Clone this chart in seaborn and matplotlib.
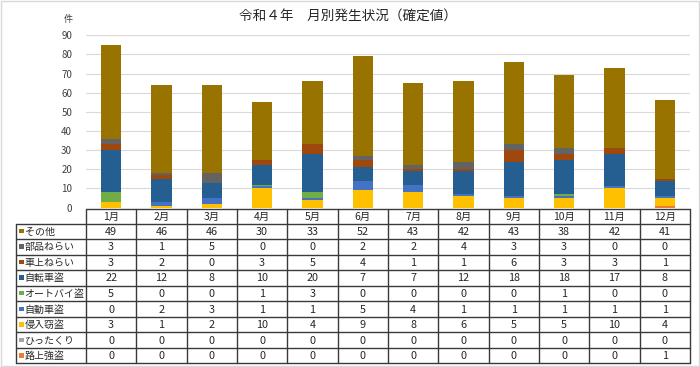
import numpy as np
import pandas as pd
import matplotlib
matplotlib.use("Agg")
import matplotlib.pyplot as plt
from matplotlib.patches import Rectangle
import seaborn as sns

months = ["1月", "2月", "3月", "4月", "5月", "6月", "7月", "8月", "9月", "10月", "11月", "12月"]
# table order (top to bottom)
series_names = ["その他", "部品ねらい", "車上ねらい", "自転車盗", "オートバイ盗", "自動車盗", "侵入窃盗", "ひったくり", "路上強盗"]
sonota    = [49, 46, 46, 30, 33, 52, 43, 42, 43, 38, 42, 41]
buhin     = [3, 1, 5, 0, 0, 2, 2, 4, 3, 3, 0, 0]
shajo     = [3, 2, 0, 3, 5, 4, 1, 1, 6, 3, 3, 1]
jitensha  = [22, 12, 8, 10, 20, 7, 7, 12, 18, 18, 17, 8]
autobai   = [5, 0, 0, 1, 3, 0, 0, 0, 0, 1, 0, 0]
jidosha   = [0, 2, 3, 1, 1, 5, 4, 1, 1, 1, 1, 1]
shinnyu   = [3, 1, 2, 10, 4, 9, 8, 6, 5, 5, 10, 4]
hittakuri = [0, 0, 0, 0, 0, 0, 0, 0, 0, 0, 0, 0]
rojo      = [0, 0, 0, 0, 0, 0, 0, 0, 0, 0, 0, 1]
series_values = [sonota, buhin, shajo, jitensha, autobai, jidosha, shinnyu, hittakuri, rojo]
colors = ["#997300", "#636363", "#9E480E", "#255E91", "#70AD47", "#4472C4", "#FFC000", "#A5A5A5", "#ED7D31"]
yticks = [0, 10, 20, 30, 40, 50, 60, 70, 80, 90]

sns.set_style("white")
plt.rcParams['font.family'] = ['Noto Sans CJK JP', 'DejaVu Sans']

W, H = 700, 367
fig = plt.figure(figsize=(7, 3.67), dpi=100)

ax = fig.add_axes([86 / W, 1 - 207.5 / H, 604 / W, (207.5 - 35.3) / H])

# stacked via cumulative sums, drawn from top layer downward
stack_bottom_up = list(reversed(series_values))
colors_bottom_up = list(reversed(colors))
cum = np.cumsum(np.array(stack_bottom_up), axis=0)
for i in range(len(stack_bottom_up) - 1, -1, -1):
    df = pd.DataFrame({"month": months, "value": cum[i]})
    sns.barplot(data=df, x="month", y="value", order=months, color=colors_bottom_up[i],
                width=0.4, saturation=1, errorbar=None, ax=ax, linewidth=0, zorder=3)

ax.set_ylim(0, 90)
ax.set_xlim(-0.5, 11.5)
ax.set_yticks(yticks)
ax.set_yticklabels([str(v) for v in yticks], fontsize=7, color="#404040")
ax.tick_params(axis="y", length=0, pad=10)
ax.set_xticks([])
ax.set_xlabel("")
ax.set_ylabel("")
ax.grid(axis="y", color="#D9D9D9", linewidth=0.8, zorder=0)
ax.set_axisbelow(True)
for s in ax.spines.values():
    s.set_visible(False)

# overlay axes in pixel coordinates for title, unit and table
tax = fig.add_axes([0, 0, 1, 1], zorder=5)
tax.set_xlim(0, W)
tax.set_ylim(H, 0)
tax.axis("off")
tax.patch.set_alpha(0)

tax.add_patch(Rectangle((0.5, 0.5), W - 1.5, H - 1.5, fill=False, edgecolor="#D9D9D9", linewidth=1))
tax.text(348, 16, "令和４年　月別発生状況（確定値）", ha="center", va="center", fontsize=9.8, color="#262626")
tax.text(68, 19, "件", ha="center", va="center", fontsize=6.5, color="#404040")

# table
x0, x1 = 86, 690
lx = 16
cw = (x1 - x0) / len(months)
ytop = 208.5
hh = 15.0
rh = 15.55
nrows = len(series_names)
ybot = ytop + hh + rh * nrows
lc = "#3a3a3a"
lw = 1.0
tax.plot([x0, x1], [ytop, ytop], color=lc, lw=lw)
for r in range(nrows + 1):
    y = ytop + hh + rh * r
    tax.plot([lx, x1], [y, y], color=lc, lw=lw)
for c in range(len(months) + 1):
    x = x0 + cw * c
    tax.plot([x, x], [ytop, ybot], color=lc, lw=lw)
tax.plot([lx, lx], [ytop + hh, ybot], color=lc, lw=lw)

for c, m in enumerate(months):
    tax.text(x0 + cw * (c + 0.5), ytop + hh / 2 + 0.5, m, ha="center", va="center", fontsize=7.5, color="#262626")
for r, (name, vals, col) in enumerate(zip(series_names, series_values, colors)):
    yc = ytop + hh + rh * (r + 0.5)
    tax.add_patch(Rectangle((19, yc - 2.5), 4.5, 4.5, facecolor=col, edgecolor="none"))
    tax.text(24.5, yc + 0.5, name, ha="left", va="center", fontsize=7.2, color="#262626")
    for c, v in enumerate(vals):
        tax.text(x0 + cw * (c + 0.5), yc + 0.5, str(v), ha="center", va="center", fontsize=7.8, color="#262626")

fig.savefig("out.png", dpi=100)
